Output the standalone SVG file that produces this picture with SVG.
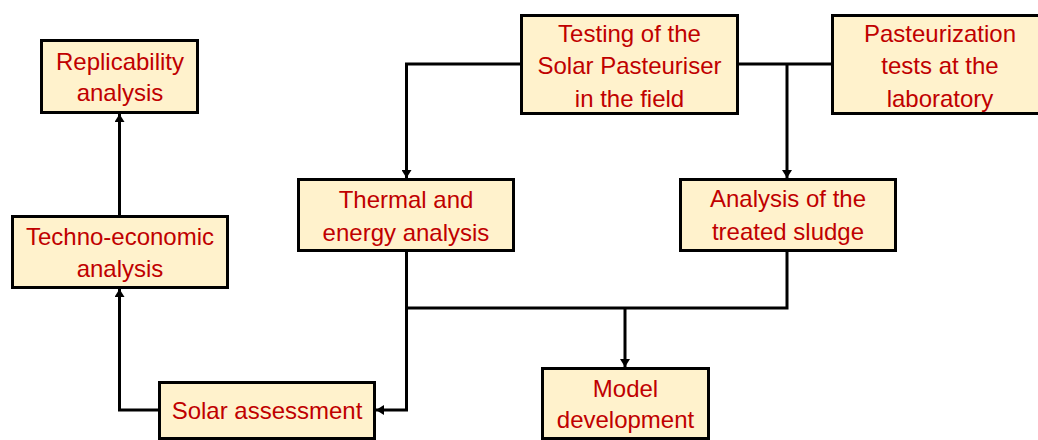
<svg xmlns="http://www.w3.org/2000/svg" width="1038" height="440" viewBox="0 0 1038 440">
<style>
.box{fill:#FFF2CC;stroke:#000;stroke-width:3}
.lbl{font-family:"Liberation Sans",Arial,sans-serif;font-size:24px;fill:#C00000;text-anchor:middle}
.con{fill:none;stroke:#000;stroke-width:3}
.arr{marker-end:url(#ah)}
</style>
<defs>
<marker id="ah" markerUnits="userSpaceOnUse" markerWidth="8" markerHeight="10" viewBox="0 0 8 10" refX="8" refY="5" orient="auto">
<path d="M0,0 L8,5 L0,10 z" fill="#000"/>
</marker>
</defs>
<rect width="1038" height="440" fill="#fff"/>
<g id="connectors">
<path class="con arr" d="M520,64 H406.5 V178"/>
<path class="con" d="M739,64 H831"/>
<path class="con arr" d="M787,64 V178"/>
<path class="con arr" d="M406.5,252 V410 H376"/>
<path class="con" d="M406.5,308 H787 V252"/>
<path class="con arr" d="M625,308 V367"/>
<path class="con arr" d="M158,410 H119.5 V289"/>
<path class="con arr" d="M119.5,215 V114"/>
</g>
<g id="replicability">
<rect class="box" x="41.5" y="40.5" width="156" height="72"/>
<text class="lbl" x="120" y="70">Replicability</text>
<text class="lbl" x="120" y="101">analysis</text>
</g>
<g id="techno">
<rect class="box" x="12.5" y="216.5" width="215" height="71"/>
<text class="lbl" x="120" y="245">Techno-economic</text>
<text class="lbl" x="120" y="277">analysis</text>
</g>
<g id="thermal">
<rect class="box" x="298.5" y="179.5" width="215" height="71"/>
<text class="lbl" x="406" y="208">Thermal and</text>
<text class="lbl" x="406" y="241">energy analysis</text>
</g>
<g id="testing">
<rect class="box" x="521.5" y="15.5" width="216" height="98"/>
<text class="lbl" x="629.5" y="42">Testing of the</text>
<text class="lbl" x="629.5" y="74">Solar Pasteuriser</text>
<text class="lbl" x="629.5" y="107">in the field</text>
</g>
<g id="pasteurization">
<rect class="box" x="832.5" y="15.5" width="215" height="98"/>
<text class="lbl" x="940" y="42">Pasteurization</text>
<text class="lbl" x="940" y="74">tests at the</text>
<text class="lbl" x="940" y="107">laboratory</text>
</g>
<g id="sludge">
<rect class="box" x="680.5" y="179.5" width="215" height="71"/>
<text class="lbl" x="788" y="207">Analysis of the</text>
<text class="lbl" x="788" y="240">treated sludge</text>
</g>
<g id="solar">
<rect class="box" x="159.5" y="382.5" width="215" height="56"/>
<text class="lbl" x="267" y="419">Solar assessment</text>
</g>
<g id="model">
<rect class="box" x="542.5" y="368.5" width="166" height="70"/>
<text class="lbl" x="625.5" y="397">Model</text>
<text class="lbl" x="625.5" y="428">development</text>
</g>
</svg>
